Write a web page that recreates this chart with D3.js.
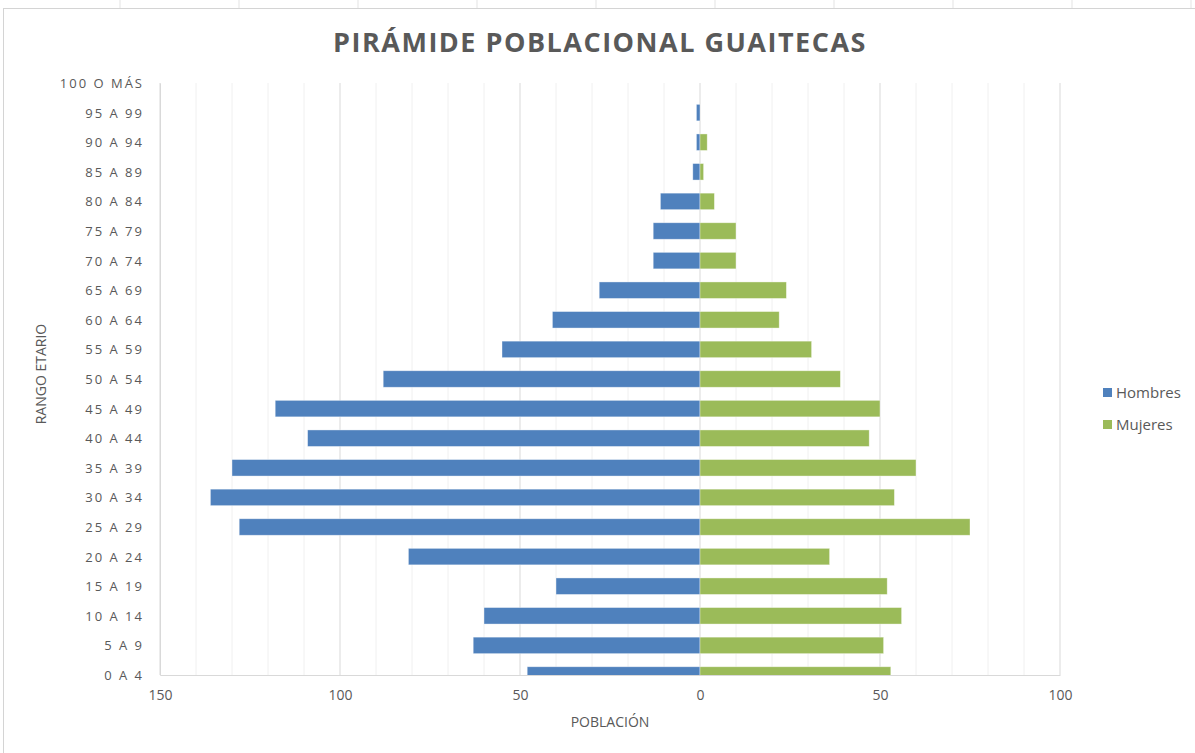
<!DOCTYPE html>
<html>
<head>
<meta charset="utf-8">
<script src="https://cdn.jsdelivr.net/npm/d3@7"></script>
<style>
  body { margin: 0; background: #fff; }
  svg text { font-family: "Open Sans", "Noto Sans", sans-serif; fill: #595959; }
</style>
</head>
<body>
<svg id="chart" width="1195" height="753"></svg>
<script>
const ageGroups = ["0 A 4", "5 A 9", "10 A 14", "15 A 19", "20 A 24", "25 A 29", "30 A 34",
  "35 A 39", "40 A 44", "45 A 49", "50 A 54", "55 A 59", "60 A 64", "65 A 69", "70 A 74",
  "75 A 79", "80 A 84", "85 A 89", "90 A 94", "95 A 99", "100 O MÁS"];
const hombres = [48, 63, 60, 40, 81, 128, 136, 130, 109, 118, 88, 55, 41, 28, 13, 13, 11, 2, 1, 1, 0];
const mujeres = [53, 51, 56, 52, 36, 75, 54, 60, 47, 50, 39, 31, 22, 24, 10, 10, 4, 1, 2, 0, 0];
const xTicks = [-150, -100, -50, 0, 50, 100];
const series = [
  { name: "Hombres", color: "#4f81bd" },
  { name: "Mujeres", color: "#9bbb59" },
];

const svg = d3.select("#chart");
const width = 1195, height = 753;

const margin = { top: 83, right: 135, bottom: 78, left: 160 },
  innerWidth = width - margin.left - margin.right,
  innerHeight = height - margin.top - margin.bottom;

// spreadsheet frame behind the chart
svg.append("g")
  .selectAll("line")
  .data(d3.range(120, width, 119))
  .join("line")
  .attr("x1", (d) => d).attr("x2", (d) => d)
  .attr("y1", 0).attr("y2", 8)
  .attr("stroke", "#e3e3e3");
svg.append("rect")
  .attr("x", 3.5).attr("y", 8.5)
  .attr("width", width).attr("height", height)
  .attr("fill", "#fff")
  .attr("stroke", "#d4d4d4");

const xScale = d3.scaleLinear().domain([-150, 100]).range([0, innerWidth]);
const yScale = d3.scalePoint().domain(ageGroups).range([innerHeight, 0]).padding(0);
const barH = 16.5;

const g = svg.append("g").attr("transform", `translate(${margin.left},${margin.top})`);

g.append("defs").append("clipPath").attr("id", "plotClip")
  .append("rect").attr("width", innerWidth).attr("height", innerHeight);

// gridlines
g.append("g")
  .selectAll("line")
  .data(d3.range(-150, 101, 10))
  .join("line")
  .attr("x1", (d) => xScale(d)).attr("x2", (d) => xScale(d))
  .attr("y1", 0).attr("y2", innerHeight)
  .attr("stroke", (d) => (d % 50 === 0 ? "#d9d9d9" : "#f0f0f0"))
  .attr("stroke-width", 1);

// bars
const rows = ageGroups.map((a, i) => ({ age: a, h: hombres[i], m: mujeres[i] }));
const bars = g.append("g").attr("clip-path", "url(#plotClip)");

bars.selectAll("rect.hombres")
  .data(rows)
  .join("rect")
  .attr("class", "hombres")
  .attr("x", (d) => xScale(-d.h))
  .attr("width", (d) => xScale(0) - xScale(-d.h))
  .attr("y", (d) => yScale(d.age) - barH / 2)
  .attr("height", barH)
  .attr("fill", series[0].color)
  .attr("stroke", "#fff").attr("stroke-opacity", 0.5).attr("stroke-width", 0.75);

bars.selectAll("rect.mujeres")
  .data(rows)
  .join("rect")
  .attr("class", "mujeres")
  .attr("x", xScale(0))
  .attr("width", (d) => xScale(d.m) - xScale(0))
  .attr("y", (d) => yScale(d.age) - barH / 2)
  .attr("height", barH)
  .attr("fill", series[1].color)
  .attr("stroke", "#fff").attr("stroke-opacity", 0.5).attr("stroke-width", 0.75);

// axes
const gx = g.append("g").attr("transform", `translate(0,${innerHeight})`)
  .call(d3.axisBottom(xScale).tickValues(xTicks).tickFormat((d) => Math.abs(d)).tickSize(0).tickPadding(15));
gx.select(".domain").attr("stroke", "#d9d9d9");
gx.selectAll("text").style("font-size", "14px").attr("fill", "#595959");

const gy = g.append("g")
  .call(d3.axisLeft(yScale).tickSize(0).tickPadding(16));
gy.select(".domain").attr("stroke", "#d9d9d9");
gy.selectAll("text").style("font-size", "13px").style("letter-spacing", "2px").attr("fill", "#595959")
  .attr("dy", "0.35em");

// titles
svg.append("text")
  .attr("x", 600).attr("y", 52)
  .attr("text-anchor", "middle")
  .style("font-size", "27px").style("font-weight", "bold").style("letter-spacing", "1.5px")
  .text("PIRÁMIDE POBLACIONAL GUAITECAS");

svg.append("text")
  .attr("x", margin.left + innerWidth / 2).attr("y", 727)
  .attr("text-anchor", "middle")
  .style("font-size", "14px")
  .text("POBLACIÓN");

svg.append("text")
  .attr("transform", `translate(46,${margin.top + innerHeight / 2 - 5}) rotate(-90)`)
  .attr("text-anchor", "middle")
  .style("font-size", "14px")
  .text("RANGO ETARIO");

// legend
const legend = svg.append("g").attr("transform", "translate(1103,393)");
const li = legend.selectAll("g").data(series).join("g")
  .attr("transform", (d, i) => `translate(0,${i * 32})`);
li.append("rect").attr("x", 0).attr("y", -5).attr("width", 9).attr("height", 9)
  .attr("fill", (d) => d.color);
li.append("text").attr("x", 13).attr("dy", "0.35em").style("font-size", "15px")
  .text((d) => d.name);
</script>
</body>
</html>
